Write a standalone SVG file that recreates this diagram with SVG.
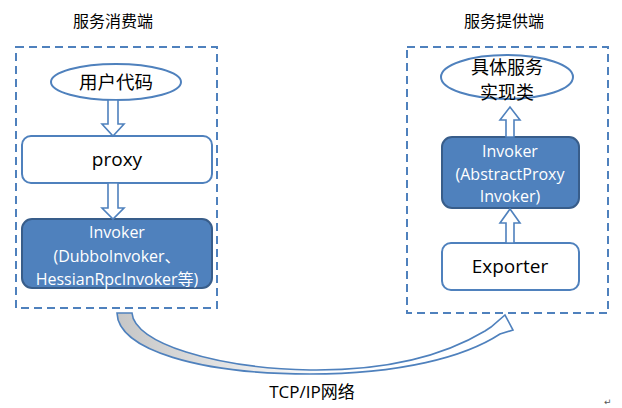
<svg xmlns="http://www.w3.org/2000/svg" width="622" height="408" viewBox="0 0 622 408">
<style>
.t{font-family:"Open Sans","Noto Sans CJK SC",sans-serif;fill:#000;text-anchor:middle}
.w{font-family:"Open Sans","Noto Sans CJK SC",sans-serif;fill:#fff;text-anchor:middle;font-size:16px}
.dash{fill:none;stroke:#4F81BD;stroke-width:2;stroke-dasharray:8 5}
.wb{fill:#fff;stroke:#4F81BD;stroke-width:2}
.bb{fill:#4F81BD;stroke:#385D8A;stroke-width:2}
.ar{fill:#fff;stroke:#4F81BD;stroke-width:1.6;stroke-linejoin:miter}
</style>
<defs>
<linearGradient id="g" gradientUnits="userSpaceOnUse" x1="117" y1="0" x2="330" y2="0">
<stop offset="0" stop-color="#c6c6c6"/>
<stop offset="1" stop-color="#ffffff"/>
</linearGradient>
</defs>
<rect width="622" height="408" fill="#fff"/>
<g id="consumer">
<rect class="dash" x="16" y="47" width="201" height="261"/>
<text class="t" x="113" y="27" font-size="16">服务消费端</text>
</g>
<g id="provider">
<rect class="dash" x="407" y="47" width="201" height="266"/>
<text class="t" x="504" y="27" font-size="16">服务提供端</text>
</g>
<g id="user-code">
<ellipse class="wb" cx="116" cy="82" rx="65" ry="18"/>
<text class="t" x="116" y="89" font-size="18.5">用户代码</text>
</g>
<g id="proxy">
<rect class="wb" x="22" y="136" width="190" height="47" rx="9"/>
<text class="t" x="117" y="166" font-size="19">proxy</text>
</g>
<g id="invoker-consumer">
<rect class="bb" x="22" y="219" width="190" height="69" rx="10"/>
<text class="w" x="117" y="238">Invoker</text>
<text class="w" x="117" y="262">(DubboInvoker、</text>
<text class="w" x="117" y="285">HessianRpcInvoker等)</text>
</g>
<g id="service-impl">
<ellipse class="wb" cx="507" cy="77" rx="66" ry="22"/>
<text class="t" x="507" y="74" font-size="18">具体服务</text>
<text class="t" x="507" y="99" font-size="18">实现类</text>
</g>
<g id="invoker-provider">
<rect class="bb" x="442" y="137" width="137" height="71" rx="10"/>
<text class="w" x="510" y="157">Invoker</text>
<text class="w" x="510" y="180">(AbstractProxy</text>
<text class="w" x="510" y="202">Invoker)</text>
</g>
<g id="exporter">
<rect class="wb" x="442" y="243" width="137" height="47" rx="9"/>
<text class="t" x="510" y="273" font-size="19">Exporter</text>
</g>
<g id="connectors">
<path class="ar" d="M108,100 L118,100 L118,124 L124,124 L113,136 L102,124 L108,124 Z"/>
<path class="ar" d="M108,183 L118,183 L118,208 L124,208 L113,219 L102,208 L108,208 Z"/>
<path class="ar" d="M506,137 L514,137 L514,120 L520,120 L510,107 L500,120 L506,120 Z"/>
<path class="ar" d="M506,243 L514,243 L514,223 L520,223 L510,209 L500,223 L506,223 Z"/>
<path d="M117,313 L132,313 C134,343 215,368 310,370 C395,371 450,352 485,331 L491,327 L505,315 L513,330 L500,334 C465,357 400,374 310,374 C200,374 118,350 117,313 Z" fill="url(#g)" stroke="#4F81BD" stroke-width="1.6" stroke-linejoin="miter"/>
</g>
<text class="t" x="312" y="398" font-size="17">TCP/IP网络</text>
<text x="604" y="405" font-family="DejaVu Sans,sans-serif" font-size="9" fill="#555">↵</text>
</svg>
